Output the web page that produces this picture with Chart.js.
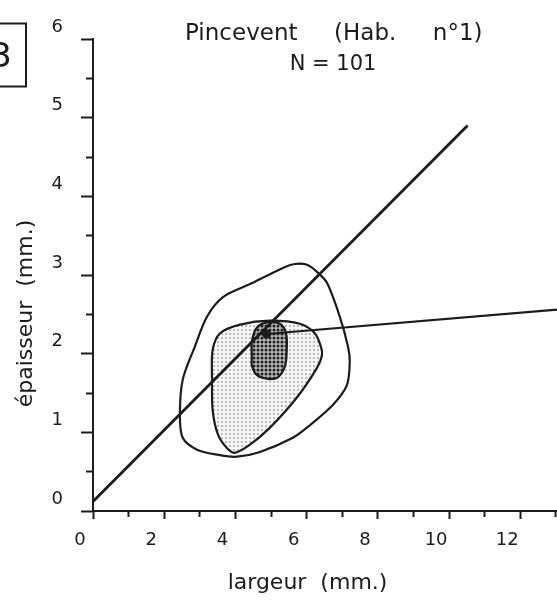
<!DOCTYPE html>
<html><head><meta charset="utf-8">
<script src="https://cdn.jsdelivr.net/npm/chart.js@4.4.1/dist/chart.umd.min.js"></script>
<style>html,body{margin:0;padding:0;background:#fff;overflow:hidden;}#wrap{position:relative;width:557px;height:607px;}canvas{display:block;}</style>
</head><body><div id="wrap"><canvas id="c"></canvas></div>
<script>
// ---- data (largeur mm = x, épaisseur mm = y) ----
const xTickLabels = ['0','2','4','6','8','10','12'];
const yTickLabels = ['0','1','2','3','4','5','6'];

// outer contour
const outerX = [4.49,5.33,5.67,6.01,6.29,6.57,6.93,7.16,7.21,7.13,6.74,6.09,5.61,4.69,4.04,3.56,2.92,2.52,2.44,2.52,2.86,3.20,3.65];
const outerY = [2.90,3.09,3.14,3.13,3.04,2.90,2.47,2.09,1.90,1.60,1.35,1.09,0.93,0.75,0.69,0.71,0.78,0.93,1.22,1.67,2.09,2.47,2.72];
// shaded (inner) contour
const innerX = [3.34,3.36,3.57,4.13,4.97,5.81,6.23,6.40,6.43,6.29,5.72,4.97,4.40,3.98,3.76,3.51,3.36];
const innerY = [1.67,2.05,2.26,2.37,2.42,2.38,2.26,2.09,1.98,1.82,1.44,1.06,0.84,0.74,0.80,0.97,1.28];
// dark core contour
const coreX = [4.46,4.46,4.60,4.91,5.25,5.42,5.44,5.39,5.19,4.91,4.60,4.46];
const coreY = [1.95,2.15,2.33,2.40,2.38,2.26,2.05,1.84,1.70,1.68,1.73,1.85];
// regression lines
const diagX = [0, 10.52];
const diagY = [0.12, 4.90];
const axisX = [4.88, 13.03];
const axisY = [2.25, 2.56];
// centroid
const centX = [4.88];
const centY = [2.25];

const title = 'Pincevent     (Hab.     n°1)';
const subtitle = 'N = 101';
const panel = '3';

function pts(xs, ys, close) {
  const a = xs.map((x, i) => ({x: x, y: ys[i]}));
  if (close) a.push({x: xs[0], y: ys[0]});
  return a;
}

const canvas = document.getElementById('c');
const cctx = canvas.getContext('2d');
function dotPattern(bg, dot, size, r) {
  const t = document.createElement('canvas');
  t.width = size; t.height = size;
  const g = t.getContext('2d');
  g.fillStyle = bg; g.fillRect(0, 0, size, size);
  g.fillStyle = dot; g.beginPath(); g.arc(size / 2, size / 2, r, 0, Math.PI * 2); g.fill();
  return cctx.createPattern(t, 'repeat');
}
const lightFill = dotPattern('#f6f6f6', '#a9a9a9', 4, 1.0);
const darkFill = dotPattern('#b8b8b8', '#202020', 4, 1.5);

const INK = '#1c1c1c';

const decor = {
  id: 'decor',
  beforeDraw(chart) {
    const c = chart.ctx;
    c.save(); c.fillStyle = '#fff'; c.fillRect(0, 0, chart.width, chart.height); c.restore();
  },
  afterDraw(chart) {
    const c = chart.ctx;
    c.save();
    c.fillStyle = INK;
    c.textBaseline = 'middle';
    c.font = '23px "DejaVu Sans"';
    c.textAlign = 'left';
    c.fillText(title, 185, 34);
    c.font = '21px "DejaVu Sans"';
    c.textAlign = 'center';
    c.fillText(subtitle, 333, 65);
    c.strokeStyle = INK; c.lineWidth = 2;
    c.strokeRect(-5, 23.5, 31, 63);
    c.font = '34px "DejaVu Sans"';
    c.textAlign = 'right';
    c.fillText(panel, 12, 58);
    c.restore();
  }
};

const line = (data, w, order, extra) => Object.assign({
  data: data, showLine: true, borderColor: INK, borderWidth: w,
  pointRadius: 0, pointHoverRadius: 0, fill: false, order: order
}, extra || {});

new Chart(canvas, {
  type: 'scatter',
  data: {
    datasets: [
      Object.assign(line(pts(centX, centY), 0, 0), {showLine: false, pointRadius: 4.5, pointStyle: 'circle', pointBackgroundColor: INK, pointBorderWidth: 0, label: 'centroïde'}),
      Object.assign(line(pts(axisX, axisY), 2.2, 1), {label: 'axe 2'}),
      Object.assign(line(pts(diagX, diagY), 2.8, 2), {label: 'axe 1'}),
      Object.assign(line(pts(coreX, coreY, true), 2.2, 3, {fill: 'shape', backgroundColor: darkFill, tension: 0.35}), {label: 'noyau'}),
      Object.assign(line(pts(innerX, innerY, true), 2.2, 4, {fill: 'shape', backgroundColor: lightFill, tension: 0.3}), {label: 'contour 2'}),
      Object.assign(line(pts(outerX, outerY, true), 2.2, 5, {tension: 0.3}), {label: 'contour 1'})
    ]
  },
  options: {
    responsive: true, maintainAspectRatio: false, animation: false,
    layout: {autoPadding: false, padding: {top: 39, right: 0, bottom: 0, left: 0}},
    plugins: {legend: {display: false}, tooltip: {enabled: false}},
    scales: {
      x: {
        type: 'linear', min: 0, max: 13.03,
        afterFit(s) { s.height = 96; s.paddingLeft = 0; s.paddingRight = 0; },
        border: {display: true, color: INK, width: 2},
        grid: {display: true, drawOnChartArea: false, drawTicks: true, tickLength: 8, tickColor: INK, tickWidth: 2,
          tickBorderDash: (ctx) => (ctx.tick && ctx.tick.value % 2 !== 0) ? [5, 100] : []},
        ticks: {stepSize: 1, includeBounds: false, autoSkip: false, maxRotation: 0, padding: 11, labelOffset: -13,
          color: INK, font: {family: 'DejaVu Sans', size: 18},
          callback: (v) => xTickLabels.includes(String(v)) ? String(v) : ''},
        title: {display: true, text: 'largeur  (mm.)     ', color: INK, font: {family: 'DejaVu Sans', size: 22}, padding: {top: 0, bottom: 11}}
      },
      y: {
        type: 'linear', min: 0, max: 6,
        afterFit(s) { s.width = 93; s.paddingTop = 0; s.paddingBottom = 0; },
        border: {display: true, color: INK, width: 2},
        grid: {display: true, drawOnChartArea: false, drawTicks: true, tickLength: 12, tickColor: INK, tickWidth: 2,
          tickBorderDash: (ctx) => (ctx.tick && ctx.tick.value % 1 !== 0) ? [0, 5, 7, 100] : []},
        ticks: {stepSize: 0.5, autoSkip: false, padding: 18, labelOffset: -12,
          color: INK, font: {family: 'DejaVu Sans', size: 18},
          callback: (v) => yTickLabels.includes(String(v)) ? String(v) : ''},
        title: {display: true, text: 'épaisseur  (mm.)           ', color: INK, font: {family: 'DejaVu Sans', size: 22}, padding: {top: 13, bottom: 0}}
      }
    }
  },
  plugins: [decor]
});
</script></body></html>
